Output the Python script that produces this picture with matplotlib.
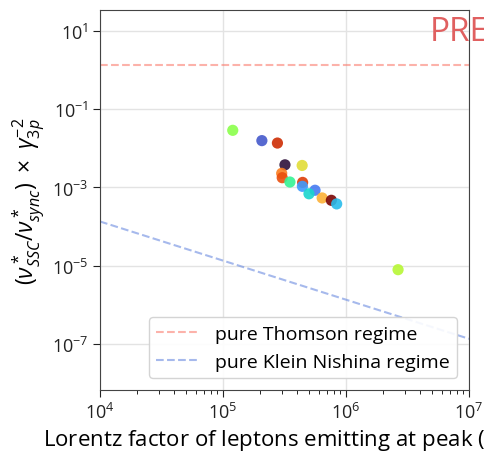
import numpy as np
import matplotlib
matplotlib.use("Agg")
import matplotlib.pyplot as plt
from matplotlib import cm

plt.rcParams['font.family'] = ['Open Sans', 'DejaVu Sans']
plt.rcParams['mathtext.fontset'] = 'custom'
plt.rcParams['mathtext.rm'] = 'Open Sans'
plt.rcParams['mathtext.it'] = 'Open Sans:italic'
plt.rcParams['mathtext.bf'] = 'Open Sans:bold'

# peak lorentz factor and frequency ratio per source
gamma_peak = [1.2e5, 2.07e5, 2.77e5, 3.19e5, 4.4e5, 3.0e5, 3.03e5, 3.5e5,
              4.44e5, 4.42e5, 5.6e5, 5.0e5, 6.4e5, 7.6e5, 8.4e5, 2.65e6]
ratio = [2.9e-2, 1.58e-2, 1.37e-2, 3.8e-3, 3.66e-3, 2.3e-3, 1.78e-3, 1.38e-3,
         1.35e-3, 1.07e-3, 8.5e-4, 6.9e-4, 5.4e-4, 4.7e-4, 3.8e-4, 7.9e-6]
# colour index in turbo colormap
cval = [0.47, 0.1, 0.88, 0.0, 0.6, 0.75, 0.82, 0.38,
        0.85, 0.2, 0.15, 0.3, 0.68, 1.0, 0.25, 0.53]

thomson_level = 1.34
kn_norm = 10**-3.87  # value at gamma = 1e4, slope -1

fig = plt.figure(figsize=(4.85, 4.52), dpi=100)
ax = fig.add_axes([100/485, 1 - 391/452, 369/485, 380/452])

g = np.logspace(4, 7, 50)
ax.plot(g, np.full_like(g, thomson_level), ls='--', color='#fa8072', alpha=0.6,
        lw=1.5, label='pure Thomson regime')
ax.plot(g, kn_norm * (g / 1e4)**-1, ls='--', color='#6b8be0', alpha=0.6,
        lw=1.5, label='pure Klein Nishina regime')

ax.scatter(gamma_peak, ratio, c=[cm.turbo(v) for v in cval], s=65,
           alpha=0.9, edgecolors='none', zorder=3)

ax.set_xscale('log')
ax.set_yscale('log')
ax.set_xlim(1e4, 1e7)
ax.set_ylim(10**-8.18, 10**1.54)
ax.set_yticks([1e1, 1e-1, 1e-3, 1e-5, 1e-7])
ax.yaxis.set_minor_locator(matplotlib.ticker.NullLocator())
ax.grid(True, which='major', color='#e3e3e3', lw=1)
ax.set_axisbelow(True)
for s in ax.spines.values():
    s.set_color('#444444')
ax.tick_params(labelsize=13, colors='#222222', length=5)
ax.tick_params(which='minor', length=3)

ax.set_xlabel(r'Lorentz factor of leptons emitting at peak ($\gamma_{peak}$)',
              fontsize=16, labelpad=4, ha='left', x=-57/369)
ax.set_ylabel(r'$(\nu^*_{SSC}/\nu^*_{sync})\ \times\ \gamma_{3p}^{-2}$',
              fontsize=16.5, labelpad=4)

ax.legend(loc='lower right', fontsize=14, framealpha=0.9, edgecolor='#d0d0d0',
          borderaxespad=0.6, handlelength=2.2)

fig.text(430/485, 1 - 41/452, 'PRELIMINARY', color='#e06060', fontsize=24,
         ha='left', va='baseline')

fig.savefig('out.png', dpi=100)
